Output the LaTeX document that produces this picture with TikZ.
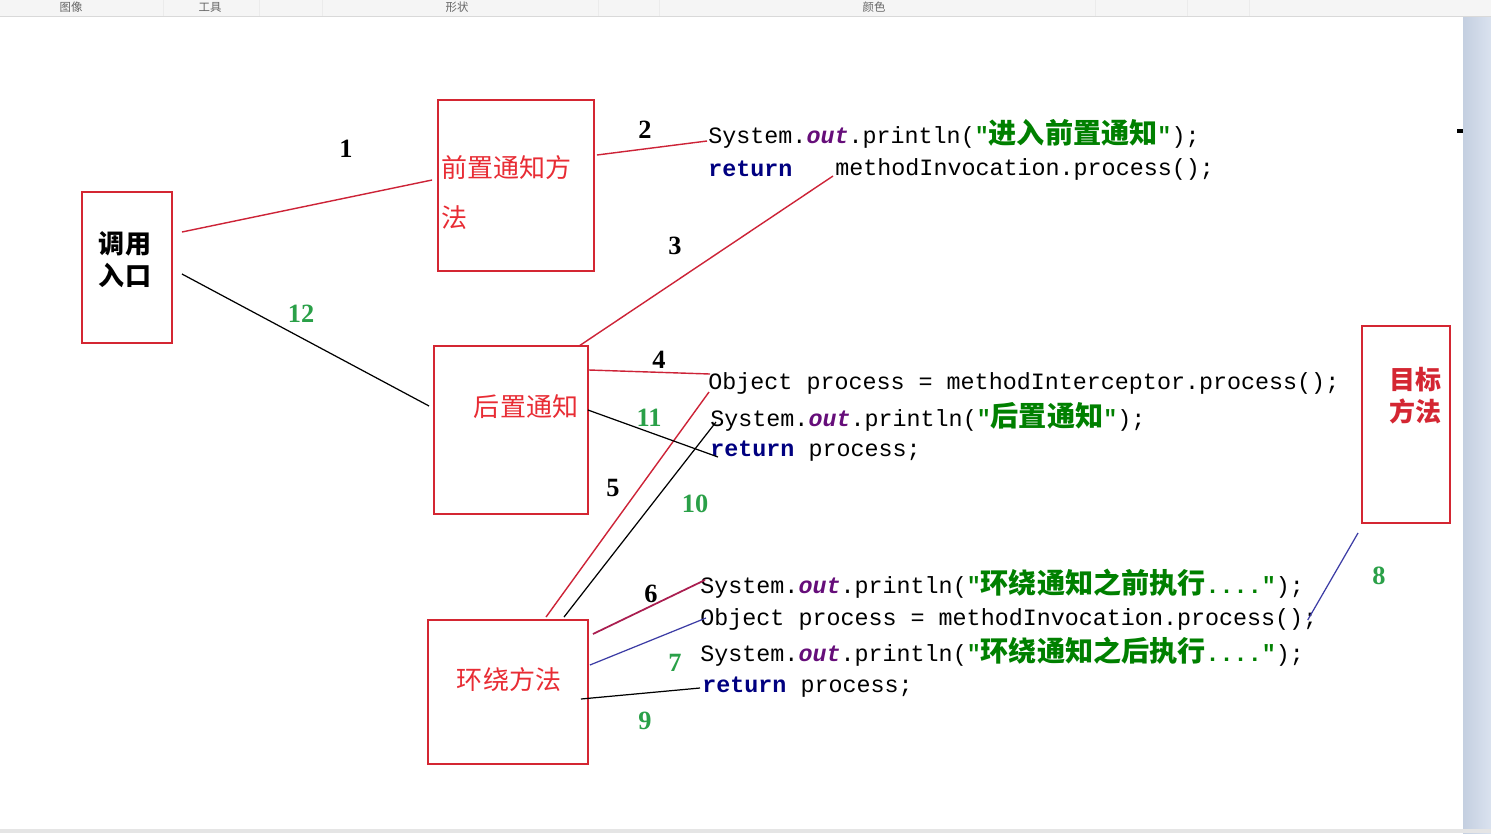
\documentclass[tikz,border=0pt]{standalone}
\usepackage{fontspec}
\usetikzlibrary{calc}
\newfontfamily\cjk{Noto Sans CJK SC}
\newfontfamily\code{Liberation Mono}
\newfontfamily\num{Liberation Serif}
\definecolor{boxred}{RGB}{212,38,50}
\definecolor{labelred}{RGB}{232,44,52}
\definecolor{linered}{RGB}{205,35,55}
\definecolor{linewine}{RGB}{170,30,80}
\definecolor{lineblue}{RGB}{60,60,165}
\definecolor{nogreen}{RGB}{42,160,72}
\definecolor{kwblue}{RGB}{0,0,128}
\definecolor{fldpurple}{RGB}{102,14,122}
\definecolor{strgreen}{RGB}{0,128,0}
\definecolor{barleft}{RGB}{196,207,224}
\definecolor{barright}{RGB}{218,226,239}
\newcommand\jkw[1]{\textcolor{kwblue}{\bfseries #1}}
\newcommand\jfld[1]{\textcolor{fldpurple}{\bfseries\itshape #1}}
\newcommand\jstr[2]{\textcolor{strgreen}{\bfseries"{\cjk\fontsize{16}{16}\selectfont #1}#2"}}
\tikzset{
  box/.style={draw=boxred, line width=1.1pt, inner sep=0pt},
  boxtext/.style={text=labelred, font=\cjk\fontsize{14.8}{18.2}\selectfont},
  codeline/.style={anchor=west, inner sep=0pt, font=\code\fontsize{13.3}{16}\selectfont},
  stepno/.style={font=\num\bfseries\fontsize{15}{16}\selectfont},
  greenno/.style={stepno, text=nogreen},
  redline/.style={draw=linered, line width=0.8pt},
  blackline/.style={draw=black, line width=0.7pt},
  blueline/.style={draw=lineblue, line width=0.7pt},
  wineline/.style={draw=linewine, line width=1pt}
}

\begin{document}
\begin{tikzpicture}[x=0.02cm, y=-0.02cm]
  \useasboundingbox (0,0) rectangle (1491,833);
  \fill[white] (0,0) rectangle (1491,833);

  % window frame
  \fill[black!4] (0,0) rectangle (1491,16);
  \draw[black!15] (0,16.5) -- (1491,16.5);
  \foreach \sx in {163,259,322,598,659,1095,1187,1249}
    \draw[black!8] (\sx,0) -- (\sx,16);
  \foreach \tx/\tl in {71/图像,210/工具,457/形状,874/颜色}
    \node[text=black!60, inner sep=0pt, font=\cjk\fontsize{6.5}{7}\selectfont] (bar\tx) at (\tx,7.5) {\tl};
  \shade[left color=barleft, right color=barright] (1463,17) rectangle (1491,833);
  \fill[black!10] (0,829) rectangle (1491,833);
  \fill[black] (1457,129) rectangle (1463,133);

  % boxes
  \node[box, minimum width=1.8cm, minimum height=3.02cm] (entry) at (127,267.5) {};
  \node[box, minimum width=3.12cm, minimum height=3.42cm] (before) at (516,185.5) {};
  \node[box, minimum width=3.08cm, minimum height=3.36cm] (after) at (511,430) {};
  \node[box, minimum width=3.2cm, minimum height=2.88cm] (around) at (508,692) {};
  \node[box, minimum width=1.76cm, minimum height=3.94cm] (target) at (1406,424.5) {};

  \node[boxtext, text=black, font=\cjk\bfseries\fontsize{14.8}{18.2}\selectfont, align=center] (entrylbl) at (125,260) {调用\\入口};
  \node[boxtext, font=\cjk\fontsize{14.8}{29}\selectfont, align=left, anchor=west, inner sep=0pt] (beforelbl) at (441,192.5) {前置通知方\\法};
  \node[boxtext] (afterlbl) at (526,407) {后置通知};
  \node[boxtext] (aroundlbl) at (509,680) {环绕方法};
  \node[boxtext, text=boxred, font=\cjk\bfseries\fontsize{14.8}{18.2}\selectfont, align=center] (targetlbl) at (1415,396) {目标\\方法};

  % code
  \node[codeline] (a1) at (708,134) {System.\jfld{out}.println(\jstr{进入前置通知}{});};
  \node[codeline] (a2kw) at (708,169) {\jkw{return}};
  \node[codeline] (a2) at (835,169) {methodInvocation.process();};
  \node[codeline] (b1) at (708,383) {Object process = methodInterceptor.process();};
  \node[codeline] (b2) at (710,417) {System.\jfld{out}.println(\jstr{后置通知}{});};
  \node[codeline] (b3) at (710,451) {\jkw{return} process;};
  \node[codeline] (c1) at (700,584) {System.\jfld{out}.println(\jstr{环绕通知之前执行}{....});};
  \node[codeline] (c2) at (700,619) {Object process = methodInvocation.process();};
  \node[codeline] (c3) at (700,652) {System.\jfld{out}.println(\jstr{环绕通知之后执行}{....});};
  \node[codeline] (c4) at (702,687) {\jkw{return} process;};

  % connectors
  \draw[redline] ($(entry.east)+(9,-35.5)$) -- ($(before.west)+(-5,-5.5)$);
  \draw[redline] ($(before.east)+(2,-30.5)$) -- ($(a1.west)+(-1,7)$);
  \draw[redline] ($(after.north east)+(-10,1)$) -- ($(a2.west)+(-2,7)$);
  \draw[redline] ($(after.east)+(0,-60)$) -- ($(b1.west)+(2,-9)$);
  \draw[redline] ($(around.north)+(38,-2)$) -- ($(b1.west)+(1,9)$);
  \draw[wineline] ($(around.east)+(4,-58)$) -- ($(c1.west)+(5,-4)$);
  \draw[blueline] ($(around.east)+(1,-27)$) -- ($(c2.west)+(6,-1)$);
  \draw[blueline] ($(c2.east)+(-10,1)$) -- ($(target.south west)+(-3,9)$);
  \draw[blackline] ($(around.east)+(-8,7)$) -- ($(c4.west)+(-2,1)$);
  \draw[blackline] ($(around.north)+(56,-2)$) -- ($(b2.west)+(6,5)$);
  \draw[blackline] ($(after.east)+(-1,-20)$) -- ($(b3.west)+(8,6)$);
  \draw[blackline] ($(entry.east)+(9,6.5)$) -- ($(after.west)+(-4,-24)$);

  % numbers
  \node[stepno] (n1) at (346,149) {1};
  \node[stepno] (n2) at (645,130) {2};
  \node[stepno] (n3) at (675,246) {3};
  \node[stepno] (n4) at (659,360) {4};
  \node[stepno] (n5) at (613,488) {5};
  \node[stepno] (n6) at (651,594) {6};
  \node[greenno] (n7) at (675,663) {7};
  \node[greenno] (n8) at (1379,576) {8};
  \node[greenno] (n9) at (645,721) {9};
  \node[greenno] (n10) at (695,504) {10};
  \node[greenno] (n11) at (649,418) {11};
  \node[greenno] (n12) at (301,314) {12};
\end{tikzpicture}
\end{document}
